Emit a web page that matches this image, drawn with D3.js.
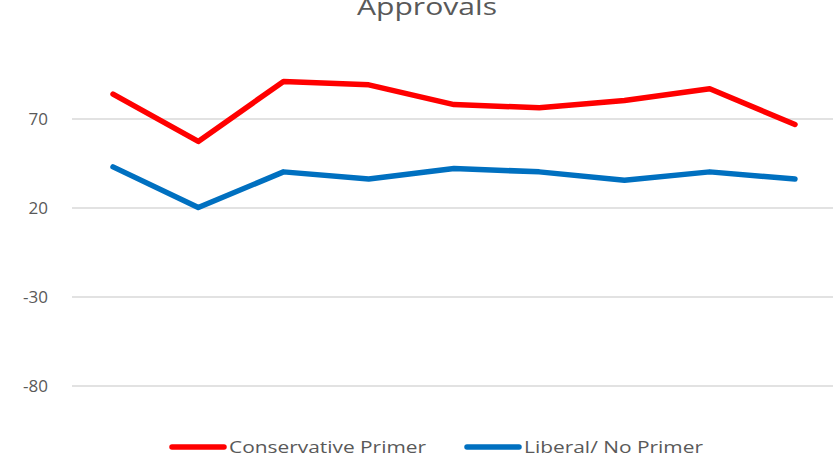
<!DOCTYPE html>
<html><head><meta charset="utf-8">
<script src="https://cdn.jsdelivr.net/npm/d3@7"></script>
<style>html,body{margin:0;padding:0;background:#fff;overflow:hidden}</style>
</head><body>
<svg id="c" width="833" height="462"></svg>
<script>
const categories = ["1","2","3","4","5","6","7","8","9"];
const conservative = [84, 57.4, 91.1, 89.2, 78.1, 76.3, 80.4, 87.0, 66.9];
const liberal = [43.1, 20.3, 40.3, 36.3, 42.2, 40.3, 35.6, 40.3, 36.3];
const yTicks = [-80, -30, 20, 70];
const seriesNames = ["Conservative Primer", "Liberal/ No Primer"];
const colors = ["#FF0000", "#0070C0"];

const svg = d3.select("#c");
const font = "'Open Sans', 'Liberation Sans', sans-serif";
const textColor = "#595959";

const x = d3.scalePoint().domain(categories).range([70.4, 837.6]).padding(0.5);
const y = d3.scaleLinear().domain([-80, 100]).range([386, 65.6]);

// gridlines
svg.append("g").selectAll("line").data(yTicks).join("line")
  .attr("x1", 72).attr("x2", 833)
  .attr("y1", d => y(d)).attr("y2", d => y(d))
  .attr("stroke", "#d9d9d9").attr("stroke-width", 1.3);

// y labels
svg.append("g").selectAll("text").data(yTicks).join("text")
  .attr("x", 48).attr("y", d => y(d)).attr("dy", "0.35em")
  .attr("text-anchor", "end").attr("font-family", font).attr("font-size", 17)
  .attr("fill", textColor).text(d => d);

// title
svg.append("text").attr("x", 427).attr("y", 15).attr("text-anchor", "middle")
  .attr("font-family", font).attr("font-size", 24).attr("fill", textColor)
  .attr("textLength", 140).attr("lengthAdjust", "spacingAndGlyphs")
  .text("Approvals");

const line = d3.line().x((d, i) => x(categories[i])).y(d => y(d));
[conservative, liberal].forEach((s, k) => {
  svg.append("path").datum(s).attr("d", line)
    .attr("fill", "none").attr("stroke", colors[k]).attr("stroke-width", 5.5)
    .attr("stroke-linejoin", "round").attr("stroke-linecap", "round");
});

// legend
const leg = [{x0: 172, x1: 224, tx: 229, tw: 197}, {x0: 467, x1: 519, tx: 524, tw: 179}];
leg.forEach((L, k) => {
  svg.append("line").attr("x1", L.x0).attr("x2", L.x1).attr("y1", 447).attr("y2", 447)
    .attr("stroke", colors[k]).attr("stroke-width", 5.5).attr("stroke-linecap", "round");
  svg.append("text").attr("x", L.tx).attr("y", 447).attr("dy", "0.35em")
    .attr("font-family", font).attr("font-size", 17).attr("fill", textColor)
    .attr("textLength", L.tw).attr("lengthAdjust", "spacingAndGlyphs")
    .text(seriesNames[k]);
});
</script>
</body></html>
